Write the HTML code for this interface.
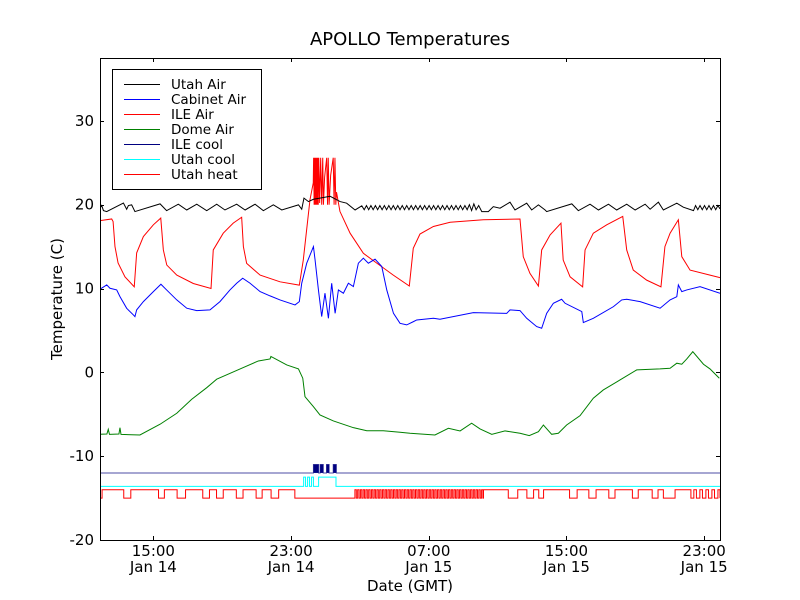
<!DOCTYPE html>
<html><head><meta charset="utf-8"><style>
html,body{margin:0;padding:0;background:#fff;}
svg{display:block;font-family:"DejaVu Sans","Liberation Sans",sans-serif;}
</style></head><body>
<svg id="chart" width="800" height="600" viewBox="0 0 800 600" xmlns="http://www.w3.org/2000/svg">
<rect x="0" y="0" width="800" height="600" fill="#fff"/>
<text x="410" y="45" font-size="18" text-anchor="middle">APOLLO Temperatures</text>
<g id="plot"></g>
<rect x="100.5" y="58.5" width="620" height="482" fill="none" stroke="#000" stroke-width="1"/>
<g id="axes"></g>
<text x="410" y="591" font-size="15" text-anchor="middle">Date (GMT)</text>
<text transform="translate(62,299) rotate(-90)" font-size="15" text-anchor="middle">Temperature (C)</text>
<g id="legend"></g>
</svg>
<script>
// time in hours since Jan 14 00:00 GMT
const yTicks = [-20, -10, 0, 10, 20, 30];
const xTickHours = [15, 23, 31, 39, 47];
const xTickTimes = ["15:00", "23:00", "07:00", "15:00", "23:00"];
const xTickDates = ["Jan 14", "Jan 14", "Jan 15", "Jan 15", "Jan 15"];
const seriesNames = ["Utah Air", "Cabinet Air", "ILE Air", "Dome Air", "ILE cool", "Utah cool", "Utah heat"];
const seriesColors = ["#000000", "#0000ff", "#ff0000", "#008000", "#000080", "#00ffff", "#ff0000"];

const utahAirT = [11.90,12.0,12.1,12.29,13.26,13.45,13.55,13.74,13.93,15.39,15.77,16.45,16.94,17.52,18.10,18.68,19.16,19.84,20.33,20.91,21.39,21.97,22.46,23.43,23.62,23.75,24.01,24.30,24.68,25.27,25.85,26.23,26.72,27.11,
27.25,27.38,27.51,27.64,27.77,27.90,28.03,28.16,28.29,28.42,28.55,28.68,28.81,28.94,29.07,29.20,29.33,29.46,29.59,29.72,29.85,29.98,30.11,30.24,30.37,30.50,30.63,30.76,30.89,31.02,31.15,31.28,31.41,31.54,31.67,31.80,31.93,32.06,32.19,32.32,32.45,32.58,32.71,32.84,32.97,33.10,33.23,33.36,33.49,33.62,33.75,33.9,
34.08,34.46,34.75,35.14,35.72,36.01,36.69,36.98,37.37,37.76,37.85,39.31,39.69,40.37,40.86,41.44,41.92,42.50,42.99,43.57,43.86,44.34,44.63,45.41,45.79,46.38,
46.5,46.63,46.76,46.89,47.02,47.15,47.28,47.41,47.54,47.67,47.80,47.92];
const utahAirV = [19.6,19.9,19.3,19.18,20.2,19.46,19.9,19.98,19.18,20.10,19.29,20.06,19.37,20.06,19.29,20.06,19.37,20.06,19.37,20.06,19.29,19.98,19.37,19.98,19.46,20.78,20.37,20.65,20.78,21.0,20.37,20.18,19.37,19.86,
19.4,19.9,19.4,19.9,19.4,19.9,19.4,19.9,19.4,19.9,19.4,19.9,19.4,19.9,19.4,19.9,19.4,19.9,19.4,19.9,19.4,19.9,19.4,19.9,19.4,19.9,19.4,19.9,19.4,19.9,19.4,19.9,19.4,19.9,19.4,19.9,19.4,19.9,19.4,19.9,19.4,19.9,19.4,19.9,19.4,19.9,19.4,20.0,19.3,20.1,19.4,19.9,
19.18,19.18,19.77,19.58,20.30,19.37,20.18,19.37,19.98,19.37,19.18,20.10,19.29,20.06,19.37,20.06,19.37,20.06,19.37,20.06,19.46,20.30,19.37,20.18,19.70,19.29,
19.9,19.4,19.9,19.4,19.9,19.4,19.9,19.4,19.9,19.4,19.9,19.5];

const cabinetT = [11.90,12.29,12.48,12.87,13.06,13.45,13.84,13.93,14.03,14.42,15.0,15.44,15.77,16.36,16.94,17.52,18.29,18.87,19.45,19.84,20.19,20.62,21.20,21.78,22.36,23.23,23.48,23.62,23.91,24.30,24.39,24.59,24.78,24.97,25.17,25.36,25.56,25.75,26.04,26.33,26.62,26.91,27.20,27.49,27.88,28.27,28.56,28.95,29.33,29.72,30.11,30.30,31.27,31.65,33.59,35.53,35.72,36.30,36.69,37.27,37.56,37.85,38.24,38.72,38.92,39.89,39.98,40.56,41.73,42.21,42.50,43.28,44.44,45.02,45.41,45.50,45.70,45.99,46.76,47.92];
const cabinetV = [9.92,10.43,10.03,9.83,9.03,7.64,6.85,6.65,7.45,8.44,9.63,10.51,9.83,8.64,7.65,7.37,7.45,8.44,9.83,10.63,11.23,10.63,9.63,9.12,8.64,8.04,8.44,10.63,13.02,15.0,13.5,9.83,6.65,9.44,6.45,10.63,7.04,9.83,9.44,10.63,10.23,13.02,13.62,13.02,13.50,12.63,9.83,7.04,5.85,5.66,6.05,6.25,6.45,6.33,7.12,7.04,7.45,7.37,6.45,5.46,5.26,7.04,8.24,8.72,8.24,7.25,5.94,6.45,7.84,8.64,8.72,8.44,7.65,8.64,9.03,10.43,9.63,9.83,10.23,9.44];

const ileAirT = [11.90,12.58,12.66,12.77,12.95,13.35,13.89,14.03,14.42,15.00,15.43,15.58,15.78,16.36,17.32,18.35,18.48,19.06,19.64,20.13,20.23,20.42,21.20,22.36,23.48,23.71,24.10,24.29,
24.31,24.34,24.37,24.40,24.43,24.46,24.49,24.52,24.55,24.58,24.61,24.66,24.72,24.78,24.84,24.88,24.95,25.07,25.12,25.16,25.21,25.3,25.45,25.50,25.55,25.60,25.64,
25.84,26.43,27.20,28.0,28.94,29.87,30.10,30.49,31.27,32.24,34.17,36.30,36.49,36.88,37.37,37.56,38.05,38.68,38.81,39.21,39.94,40.08,40.56,41.34,42.27,42.50,42.88,43.66,44.49,44.72,45.02,45.50,45.70,46.18,47.34,47.92];
const ileAirV = [18.1,18.3,18.0,15.0,13.05,11.4,10.2,14.25,16.2,17.6,18.4,14.6,12.8,11.6,10.6,10.0,14.6,16.6,17.8,18.5,15.0,13.0,11.6,10.8,10.4,13.4,20.6,22.6,
25.6,20.0,25.6,20.0,25.6,20.0,25.6,20.0,25.6,20.0,25.6,20.2,25.6,20.0,25.6,20.0,23.3,25.6,20.0,25.6,20.0,23.5,25.6,20.0,25.6,20.0,21.5,
19.2,16.6,14.2,13.0,11.6,10.3,14.8,16.5,17.4,17.9,18.2,18.3,13.8,11.8,10.3,14.6,16.4,17.8,13.4,11.4,10.2,14.6,16.6,17.6,18.6,14.6,12.2,11.0,10.2,15.0,16.6,18.2,13.8,12.2,11.6,11.3];

const domeT = [11.90,12.3,12.38,12.45,13.0,13.06,13.12,14.22,15.39,16.36,17.23,18.10,18.68,20.04,21.10,21.78,21.83,22.75,23.43,23.68,23.81,24.30,24.68,25.46,26.62,27.40,28.36,29.33,29.91,31.36,32.14,32.82,33.49,33.98,34.66,35.43,36.30,36.84,37.37,37.66,38.14,38.53,39.01,39.79,40.56,41.14,42.11,43.08,44.44,45.02,45.41,45.70,45.99,46.34,46.96,47.34,47.88];
const domeV = [-7.39,-7.35,-6.8,-7.4,-7.35,-6.6,-7.4,-7.47,-6.19,-4.88,-3.21,-1.83,-0.82,0.41,1.36,1.60,1.9,0.88,0.41,-0.70,-2.90,-4.09,-5.08,-5.80,-6.60,-6.96,-6.96,-7.15,-7.27,-7.47,-6.67,-6.99,-6.07,-6.75,-7.39,-6.99,-7.27,-7.55,-7.08,-6.28,-7.39,-7.27,-6.28,-5.17,-3.09,-2.10,-0.91,0.29,0.41,0.49,1.09,0.97,1.60,2.47,0.97,0.41,-0.70];

const ileCoolBase = -12, ileCoolOn = -11;
const ileCoolIntervals = [[24.30,24.60],[24.69,24.87],[25.06,25.21],[25.45,25.63]];
const utahCoolBase = -13.6, utahCoolOn = -12.5;
const utahCoolIntervals = [[23.73,23.84],[23.96,24.07],[24.19,24.30],[24.60,25.61]];
const heatOff = -15, heatOn = -14;
const heatIntervals = [[12.02,13.28],[13.69,15.30],[15.64,16.38],[16.87,17.87],[18.26,18.67],[19.06,19.82],[20.21,20.97],[21.32,21.84],[22.28,23.22],
[34.18,35.62],[36.17,36.70],[37.09,37.39],[37.67,39.18],[39.62,40.30],[40.72,41.46],[41.82,42.83],[43.17,43.98],[44.32,44.63],[45.31,46.23],
[46.4,46.55],[46.75,46.9],[47.1,47.25],[47.45,47.6],[47.8,47.92]];
const heatPulseStarts = [26.71,26.87,27.03,27.19,27.35,27.51,27.67,27.83,27.99,28.15,28.31,28.47,28.63,28.79,28.95,29.11,29.27,29.43,29.59,29.75,29.91,30.07,30.23,30.39,30.55,30.71,30.87,31.03,31.19,31.35,31.51,31.67,31.83,31.99,32.15,32.31,32.47,32.63,32.79,32.95,33.11,33.27,33.43,33.59,33.75,33.91,34.07];
const heatPulseWidth = 0.08;

const X0 = 100, X1 = 720, Y0 = 540, Y1 = 58;
const T0 = 11.90, T1 = 47.92, V0 = -20, V1 = 37.5;
function xs(t){ return X0 + (t - T0) / (T1 - T0) * (X1 - X0); }
function ys(v){ return Y0 - (v - V0) / (V1 - V0) * (Y0 - Y1); }
const NS = "http://www.w3.org/2000/svg";
const plot = document.getElementById('plot');
const axes = document.getElementById('axes');
const legend = document.getElementById('legend');

function mk(tag, attrs, parent){
  const el = document.createElementNS(NS, tag);
  for (const k in attrs) el.setAttribute(k, attrs[k]);
  parent.appendChild(el);
  return el;
}
function linePath(T, V){
  let d = '';
  for (let i = 0; i < T.length; i++) d += (i ? 'L' : 'M') + xs(T[i]).toFixed(2) + ',' + ys(V[i]).toFixed(2);
  return d;
}
function stepPath(intervals, base, on){
  let d = 'M' + X0 + ',' + ys(base).toFixed(2);
  intervals.forEach(iv => {
    const a = xs(iv[0]).toFixed(2), b = xs(iv[1]).toFixed(2);
    d += 'L' + a + ',' + ys(base).toFixed(2) + 'L' + a + ',' + ys(on).toFixed(2) + 'L' + b + ',' + ys(on).toFixed(2) + 'L' + b + ',' + ys(base).toFixed(2);
  });
  d += 'L' + X1 + ',' + ys(base).toFixed(2);
  return d;
}

// clip
const defs = mk('defs', {}, plot);
const cp = mk('clipPath', {id:'clip'}, defs);
mk('rect', {x:X0, y:Y1, width:X1-X0, height:Y0-Y1}, cp);
const g = mk('g', {'clip-path':'url(#clip)'}, plot);

// Utah heat (step)
const heatAll = heatIntervals.concat(heatPulseStarts.map(s => [s, s + heatPulseWidth])).sort((a,b)=>a[0]-b[0]);
const heatEl = mk('path', {d: stepPath(heatAll, heatOff, heatOn), fill:'none', stroke:seriesColors[6], 'stroke-width':1}, g);



// Utah cool
const ucEl = mk('path', {d: stepPath(utahCoolIntervals, utahCoolBase, utahCoolOn), fill:'none', stroke:seriesColors[5], 'stroke-width':1}, g);



// ILE cool
ileCoolIntervals.forEach(iv => {
  const r = mk('rect', {x:xs(iv[0]), y:ys(ileCoolOn), width:xs(iv[1])-xs(iv[0]), height:ys(ileCoolBase)-ys(ileCoolOn), fill:seriesColors[4]}, g);
  
  
});
const icEl = mk('path', {d: stepPath(ileCoolIntervals, ileCoolBase, ileCoolOn), fill:'none', stroke:seriesColors[4], 'stroke-width':1, 'stroke-opacity':0.7}, g);



// Dome
const domeEl = mk('path', {d: linePath(domeT, domeV), fill:'none', stroke:seriesColors[3], 'stroke-width':1}, g);


// ILE air
const ileEl = mk('path', {d: linePath(ileAirT, ileAirV), fill:'none', stroke:seriesColors[2], 'stroke-width':1}, g);


// Cabinet
const cabEl = mk('path', {d: linePath(cabinetT, cabinetV), fill:'none', stroke:seriesColors[1], 'stroke-width':1}, g);


// Utah air
const uaEl = mk('path', {d: linePath(utahAirT, utahAirV), fill:'none', stroke:seriesColors[0], 'stroke-width':1}, g);



// Y ticks
yTicks.forEach(v => {
  const y = Math.round(ys(v)) + 0.5;
  const t1 = mk('line', {x1:X0, x2:X0+4, y1:y, y2:y, stroke:'#000'}, axes);
  
  
  const t2 = mk('line', {x1:X1-4, x2:X1, y1:y, y2:y, stroke:'#000'}, axes);
  
  
  const tx = mk('text', {x:X0-6, y:ys(v)+5, 'font-size':15, 'text-anchor':'end'}, axes);
  tx.textContent = String(v);
  
  
});
// X ticks
xTickHours.forEach((h, i) => {
  const x = Math.round(xs(h)) + 0.5;
  const t1 = mk('line', {x1:x, x2:x, y1:Y0, y2:Y0-4, stroke:'#000'}, axes);
  
  
  const t2 = mk('line', {x1:x, x2:x, y1:Y1, y2:Y1+4, stroke:'#000'}, axes);
  
  
  const a = mk('text', {x:xs(h), y:556, 'font-size':15, 'text-anchor':'middle'}, axes);
  a.textContent = xTickTimes[i];
  
  
  const b = mk('text', {x:xs(h), y:572, 'font-size':15, 'text-anchor':'middle'}, axes);
  b.textContent = xTickDates[i];
  
  
});

// Legend
const lb = mk('rect', {x:112.5, y:69.5, width:149, height:120, fill:'#fff', stroke:'#000', 'stroke-width':1}, legend);


seriesNames.forEach((n, i) => {
  const y = 84 + i * 15;
  const ent = mk('g', {}, legend);
  
  
  mk('line', {x1:124, x2:160, y1:y+0.5, y2:y+0.5, stroke:seriesColors[i], 'stroke-width':1}, ent);
  const t = mk('text', {x:171, y:y+5, 'font-size':13.5}, ent);
  t.textContent = n;
});
</script>
</body></html>
